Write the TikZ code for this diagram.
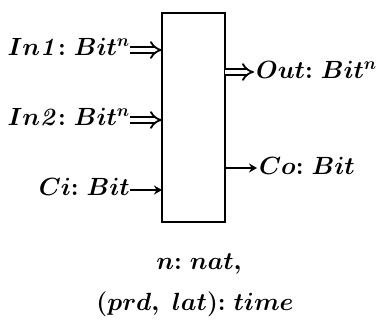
\documentclass[tikz,border=0pt]{standalone}
\usetikzlibrary{arrows.meta}
\begin{document}
\begin{tikzpicture}[x=1pt,y=1pt,
  lbl/.style={inner sep=0pt, font=\fontsize{27}{30}\selectfont\boldmath},
  dbl/.style={double, double distance=4.2pt, line width=1.8pt, -{Implies[length=7pt,width=15pt]}},
  sgl/.style={line width=2pt, -{Stealth[length=8pt,width=9pt]}},
  blk/.style={draw, line width=2.4pt, minimum width=63pt, minimum height=209pt, inner sep=0pt}]
\useasboundingbox (0,0) rectangle (385,321);
\node[blk] (box) at (193.5,203.5) {};
% port coordinates on the box
\coordinate (p1) at (162,271);
\coordinate (p2) at (162,201);
\coordinate (p3) at (162,131);
\coordinate (q1) at (225,249);
\coordinate (q2) at (225,153);
% labels
\node[lbl, anchor=base east] (in1) at (130,265) {$In\mathit{1}{:}\; Bit^{n}$};
\node[lbl, anchor=base east] (in2) at (130,195) {$In\mathit{2}{:}\; Bit^{n}$};
\node[lbl, anchor=base east] (ci) at (130,125) {$Ci{:}\; Bit$};
\node[lbl, anchor=base west] (out) at (256,242) {$Out{:}\; Bit^{n}$};
\node[lbl, anchor=base west] (co) at (259,146) {$Co{:}\; Bit$};
\node[lbl, anchor=base] (par1) at (199,52) {$n{:}\; nat,$};
\node[lbl, anchor=base] (par2) at (195,11) {$(prd,\; lat){:}\; time$};
% connectors
\draw[dbl] (in1.east |- p1) -- (p1);
\draw[dbl] (in2.east |- p2) -- (p2);
\draw[sgl] (ci.east |- p3) -- (p3);
\draw[dbl] (q1) -- ([xshift=-2pt]out.west |- q1);
\draw[sgl] (q2) -- ([xshift=-2pt]co.west |- q2);
\end{tikzpicture}
\end{document}
